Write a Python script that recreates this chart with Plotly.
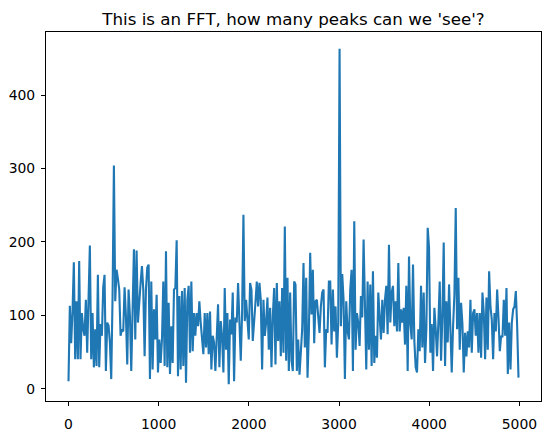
import numpy as np
import plotly.graph_objects as go

# FFT magnitudes, left to right (segments of ~700 Hz)
seg0 = [10, 113, 62, 105, 172, 40, 119, 40]
seg1 = [174, 40, 103, 81, 72, 121, 49, 121, 195, 40, 103, 29, 81, 31, 155, 29, 88, 72, 138,
        155, 24, 90, 86, 63, 13, 126, 304, 119, 162, 150, 135, 72, 81, 78, 138, 99, 33, 135, 99, 24,
        131, 190, 67, 188, 90, 126, 144]
seg2 = [167, 135, 44, 135, 165, 169, 13, 146, 26, 108, 67, 128, 22, 67, 35, 67, 146, 31, 187, 29,
        117, 20, 85, 35, 135, 137, 202, 17, 126, 26, 133, 31, 137, 8, 121, 140, 49, 146, 51, 103,
        72, 103, 85, 119, 90, 72, 47]
seg3 = [103, 56, 103, 47, 105, 26, 72, 63, 24, 72, 115, 29, 92, 72, 22, 137, 53, 103, 6, 94,
        74, 131, 10, 97, 90, 144, 99, 38, 103, 237, 92, 121, 94, 67, 144, 135, 65, 99, 117, 146,
        112, 144, 121, 26, 121, 72, 90]
seg4 = [124, 53, 110, 29, 99, 137, 33, 144, 65, 119, 44, 137, 49, 221, 38, 151, 24, 131, 38, 24,
        146, 142, 24, 67, 19, 60, 81, 171, 56, 151, 15, 76, 185, 101, 162, 62, 119, 121, 99, 76,
        112, 131, 135, 29, 81, 76, 146]
seg5 = [146, 60, 135, 78, 112, 42, 90, 463, 85, 156, 121, 13, 119, 78, 67, 135, 162, 24, 228, 53,
        103, 90, 58, 126, 97, 203, 103, 26, 146, 53, 142, 31, 160, 35, 72, 42, 131, 94, 67, 121,
        76, 121, 140, 74, 196, 90, 131]
seg6 = [140, 85, 119, 78, 171, 78, 108, 90, 110, 60, 140, 24, 180, 88, 67, 169, 65, 29, 22, 81,
        51, 140, 56, 131, 35, 81, 219, 192, 49, 88, 24, 110, 81, 44, 90, 146, 38, 99, 199, 31,
        119, 63, 142, 81, 22, 85, 128]
seg7 = [246, 81, 151, 53, 117, 88, 22, 76, 44, 78, 56, 121, 49, 103, 108, 72, 103, 49, 103, 42,
        131, 103, 40, 124, 53, 160, 112, 94, 40, 103, 78, 135, 97, 51, 72, 70, 121, 72, 137, 20,
        90, 26, 90, 108, 112, 133, 85, 15]

magnitude = seg0 + seg1 + seg2 + seg3 + seg4 + seg5 + seg6 + seg7
f_max = 4990
freqs = np.linspace(0, f_max, len(magnitude))

x_ticks = [0, 1000, 2000, 3000, 4000, 5000]
y_ticks = [0, 100, 200, 300, 400]

xpad = 0.05 * (freqs.max() - freqs.min())
ypad = 0.05 * (max(magnitude) - min(magnitude))

fig = go.Figure(go.Scatter(x=freqs, y=magnitude, mode="lines",
                           line=dict(color="#1f77b4", width=2.1)))

axis_common = dict(showline=True, linecolor="black", linewidth=1.1, mirror=True,
                   ticks="outside", ticklen=4, tickwidth=1.1, tickcolor="black",
                   showgrid=False, zeroline=False, automargin=False,
                   tickfont=dict(family="DejaVu Sans", size=13.9, color="black"))

fig.update_layout(
    width=552, height=435,
    margin=dict(l=46, r=11, t=32, b=34, autoexpand=False),
    paper_bgcolor="white", plot_bgcolor="white",
    showlegend=False,
    title=dict(text="This is an FFT, how many peaks can we 'see'?",
               x=(46 + 541) / 2 / 552, xanchor="center",
               y=1 - 19 / 435, yanchor="middle", yref="container",
               font=dict(family="DejaVu Sans", size=16.7, color="black")),
    xaxis=dict(range=[freqs.min() - xpad, freqs.max() + xpad], ticklabelstandoff=6,
               tickvals=x_ticks, ticktext=[str(t) for t in x_ticks], **axis_common),
    yaxis=dict(range=[min(magnitude) - ypad, max(magnitude) + ypad], ticklabelstandoff=3,
               tickvals=y_ticks, ticktext=[str(t) for t in y_ticks], **axis_common),
)

fig.write_html("out.html")
